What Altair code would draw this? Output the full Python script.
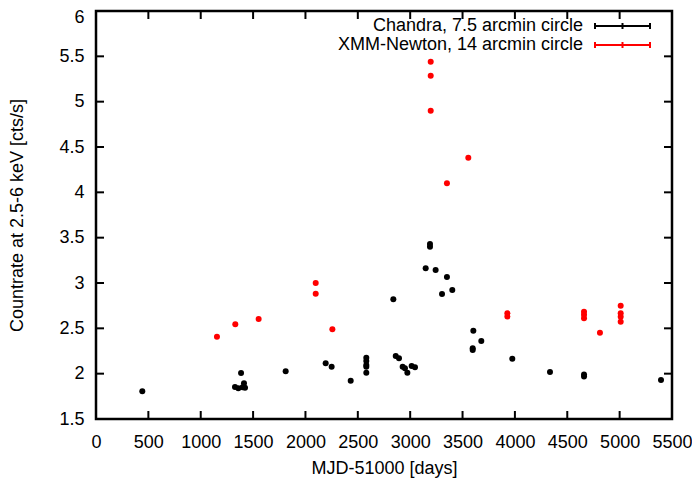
import altair as alt
import pandas as pd

series = ["Chandra, 7.5 arcmin circle", "XMM-Newton, 14 arcmin circle"]
colors = ["#000000", "#ff0000"]

chandra_x = [442, 1327, 1359, 1385, 1400, 1413, 1423, 1811, 2193, 2250, 2432,
             2581, 2581, 2581, 2581, 2581, 2839, 2862, 2893, 2928, 2950, 2973,
             3014, 3046, 3148, 3189, 3189, 3243, 3304, 3351, 3402, 3597, 3597,
             3603, 3679, 3975, 4335, 4660, 4660, 5395]
chandra_y = [1.805, 1.853, 1.839, 2.007, 1.85, 1.894, 1.845, 2.026, 2.114, 2.077, 1.923,
             2.176, 2.14, 2.096, 2.077, 2.01, 2.82, 2.195, 2.169, 2.077, 2.059, 2.011,
             2.085, 2.07, 3.162, 3.43, 3.40, 3.143, 2.879, 3.066, 2.923, 2.28, 2.26,
             2.474, 2.36, 2.165, 2.018, 1.99, 1.97, 1.93]

xmm_x = [1155, 1330, 1553, 2098, 2098, 2257, 3196, 3196, 3196, 3351, 3555,
         3928, 3928, 4660, 4660, 4660, 4812, 5010, 5010, 5010, 5010]
xmm_y = [2.408, 2.544, 2.603, 3.0, 2.882, 2.489, 5.44, 5.286, 4.9, 4.1, 4.382,
         2.666, 2.63, 2.683, 2.65, 2.61, 2.452, 2.75, 2.666, 2.628, 2.573]

x_ticks = [0, 500, 1000, 1500, 2000, 2500, 3000, 3500, 4000, 4500, 5000, 5500]
y_ticks = [1.5, 2, 2.5, 3, 3.5, 4, 4.5, 5, 5.5, 6]

W, H = 576, 408
FONT = "Liberation Sans"
FS = 18

df = pd.concat([
    pd.DataFrame({"t": chandra_x, "rate": chandra_y, "series": series[0]}),
    pd.DataFrame({"t": xmm_x, "rate": xmm_y, "series": series[1]}),
])

xscale = alt.Scale(domain=[0, 5500], nice=False, zero=False)
yscale = alt.Scale(domain=[1.5, 6], nice=False, zero=False)

xaxis = alt.Axis(values=x_ticks, format="d", ticks=False, domain=False, grid=False,
                 labelFont=FONT, labelFontSize=FS, labelPadding=14, labelColor="black",
                 titleFont=FONT, titleFontSize=FS, titleFontWeight="normal",
                 titlePadding=8, titleColor="black", labelFlush=False)
yaxis = alt.Axis(values=y_ticks, format=".1~f", ticks=False, domain=False, grid=False,
                 labelFont=FONT, labelFontSize=FS, labelPadding=12, labelColor="black",
                 labelOffset={"condition": {"test": "datum.value == 6", "value": 6}, "value": 0},
                 titleFont=FONT, titleFontSize=FS, titleFontWeight="normal",
                 titlePadding=32, titleColor="black", labelFlush=False)
XT = "MJD-51000 [days]"
YT = "Countrate at 2.5-6 keV [cts/s]"

points = alt.Chart(df).mark_point(filled=True, size=36, opacity=1, shape="circle").encode(
    x=alt.X("t:Q", scale=xscale, title=XT, axis=xaxis),
    y=alt.Y("rate:Q", scale=yscale, title=YT, axis=yaxis),
    color=alt.Color("series:N", scale=alt.Scale(domain=series, range=colors), legend=None),
)

xt = pd.DataFrame({"t": x_ticks[1:-1]})
yt = pd.DataFrame({"rate": y_ticks[1:-1]})
tick_len = 8
bx = alt.X("t:Q", scale=xscale, title=XT, axis=xaxis)
by = alt.Y("rate:Q", scale=yscale, title=YT, axis=yaxis)
tb = alt.Chart(xt).mark_rule(color="black", strokeWidth=2).encode(
    x=bx, y=alt.value(H), y2=alt.value(H - tick_len))
tt = alt.Chart(xt).mark_rule(color="black", strokeWidth=2).encode(
    x=bx, y=alt.value(0), y2=alt.value(tick_len))
tl = alt.Chart(yt).mark_rule(color="black", strokeWidth=2).encode(
    y=by, x=alt.value(0), x2=alt.value(tick_len))
tr = alt.Chart(yt).mark_rule(color="black", strokeWidth=2).encode(
    y=by, x=alt.value(W), x2=alt.value(W - tick_len))

layers = [points, tb, tt, tl, tr]
leg_y = [15, 34]
for i in range(2):
    ld = pd.DataFrame({"label": [series[i]]})
    base = alt.Chart(ld)
    layers.append(base.mark_text(align="right", baseline="middle", font=FONT, fontSize=FS,
                                 color="black").encode(
        text="label:N", x=alt.value(487), y=alt.value(leg_y[i])))
    layers.append(base.mark_rule(color=colors[i], strokeWidth=2).encode(
        x=alt.value(499), x2=alt.value(554), y=alt.value(leg_y[i])))
    for xx in [499, 526.5, 554]:
        layers.append(base.mark_rule(color=colors[i], strokeWidth=2).encode(
            x=alt.value(xx), y=alt.value(leg_y[i] - 3), y2=alt.value(leg_y[i] + 3)))

chart = alt.layer(*layers).properties(
    width=W, height=H,
    autosize=alt.AutoSizeParams(type="none"),
    padding={"left": 88, "top": 3, "right": 20, "bottom": 59},
    background="white",
).configure_view(stroke="black", strokeWidth=2.5)

chart.save("out.html", embed_options={"renderer": "svg", "actions": False})
